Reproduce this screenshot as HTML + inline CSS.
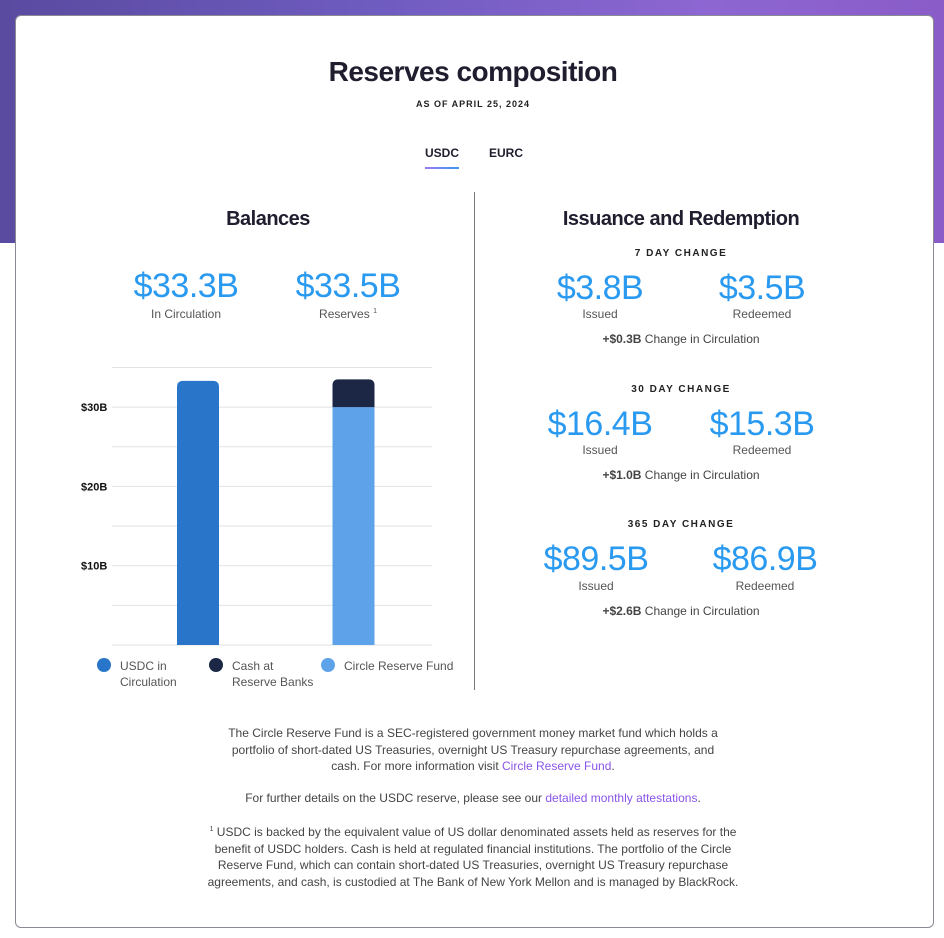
<!DOCTYPE html>
<html><head><meta charset="utf-8"><style>
*{margin:0;padding:0;box-sizing:border-box}
body{width:944px;height:938px;position:relative;background:#fff;font-family:"Liberation Sans",sans-serif;color:#2a2a3a;overflow:hidden}
.bg{position:absolute;left:0;top:0;width:944px;height:243px;background:linear-gradient(90deg,#5a4aa0 0%,#6f5cc0 40%,#8d66d2 75%,#8a5cc8 100%)}
.card{position:absolute;left:15px;top:15px;width:919px;height:913px;background:#fff;border:1px solid #8a8a95;border-radius:6px}
.a{position:absolute;white-space:nowrap}
.c{text-align:center;transform:translateX(-50%)}
.big{font-size:34px;color:#2a9af0;font-weight:normal;letter-spacing:-0.5px}
.lbl{font-size:12px;color:#555}
.cap{font-size:10px;font-weight:bold;letter-spacing:1.5px;color:#222}
.chg{font-size:12px;color:#444}
.foot{font-size:12px;color:#444;line-height:16.5px;text-align:center}
a{color:#8a55e8;text-decoration:none}
</style></head><body>
<div class="bg"></div>
<div class="card"></div>
<div class="a c" style="left:473px;top:56px;font-size:28px;font-weight:bold;color:#1f1d2e;letter-spacing:-0.5px">Reserves composition</div>
<div class="a c" style="left:473px;top:99px;font-size:9px;font-weight:bold;letter-spacing:1px;color:#222">AS OF APRIL 25, 2024</div>
<div class="a" style="left:425px;top:146px;font-size:12px;font-weight:bold;color:#1f1d2e">USDC</div>
<div class="a" style="left:425px;top:167px;width:34px;height:2px;background:linear-gradient(90deg,#9a7af0,#3a9af0)"></div>
<div class="a" style="left:489px;top:146px;font-size:12px;font-weight:bold;color:#1f1d2e">EURC</div>
<div class="a" style="left:474px;top:192px;width:1px;height:498px;background:#777"></div>

<div class="a c" style="left:268px;top:208px;font-size:20px;font-weight:bold;color:#1f1d2e;letter-spacing:-0.5px">Balances</div>
<div class="a c big" style="left:186px;top:267px">$33.3B</div>
<div class="a c lbl" style="left:186px;top:307px">In Circulation</div>
<div class="a c big" style="left:348px;top:267px">$33.5B</div>
<div class="a c lbl" style="left:348px;top:307px">Reserves <sup style="font-size:7px">1</sup></div>

<svg id="chart" class="a" style="left:0;top:0" width="944" height="700"></svg>

<div class="a" style="left:97px;top:658px;width:14px;height:14px;border-radius:50%;background:#2875c9"></div>
<div class="a lbl" style="left:120px;top:658px;line-height:16px">USDC in<br>Circulation</div>
<div class="a" style="left:209px;top:658px;width:14px;height:14px;border-radius:50%;background:#1b2744"></div>
<div class="a lbl" style="left:232px;top:658px;line-height:16px">Cash at<br>Reserve Banks</div>
<div class="a" style="left:321px;top:658px;width:14px;height:14px;border-radius:50%;background:#5ea3ea"></div>
<div class="a lbl" style="left:344px;top:658px;line-height:16px">Circle Reserve Fund</div>

<div class="a c" style="left:681px;top:208px;font-size:20px;font-weight:bold;color:#1f1d2e;letter-spacing:-0.5px">Issuance and Redemption</div>

<div class="a c cap" style="left:681px;top:248px">7 DAY CHANGE</div>
<div class="a c big" style="left:600px;top:269px">$3.8B</div>
<div class="a c lbl" style="left:600px;top:307px">Issued</div>
<div class="a c big" style="left:762px;top:269px">$3.5B</div>
<div class="a c lbl" style="left:762px;top:307px">Redeemed</div>
<div class="a c chg" style="left:681px;top:332px"><b>+$0.3B</b> Change in Circulation</div>

<div class="a c cap" style="left:681px;top:384px">30 DAY CHANGE</div>
<div class="a c big" style="left:600px;top:405px">$16.4B</div>
<div class="a c lbl" style="left:600px;top:443px">Issued</div>
<div class="a c big" style="left:762px;top:405px">$15.3B</div>
<div class="a c lbl" style="left:762px;top:443px">Redeemed</div>
<div class="a c chg" style="left:681px;top:468px"><b>+$1.0B</b> Change in Circulation</div>

<div class="a c cap" style="left:681px;top:519px">365 DAY CHANGE</div>
<div class="a c big" style="left:596px;top:540px">$89.5B</div>
<div class="a c lbl" style="left:596px;top:579px">Issued</div>
<div class="a c big" style="left:765px;top:540px">$86.9B</div>
<div class="a c lbl" style="left:765px;top:579px">Redeemed</div>
<div class="a c chg" style="left:681px;top:604px"><b>+$2.6B</b> Change in Circulation</div>

<div class="a c foot" style="left:473px;top:725px">The Circle Reserve Fund is a SEC-registered government money market fund which holds a<br>portfolio of short-dated US Treasuries, overnight US Treasury repurchase agreements, and<br>cash. For more information visit <a href="#">Circle Reserve Fund</a>.</div>
<div class="a c foot" style="left:473px;top:790px">For further details on the USDC reserve, please see our <a href="#">detailed monthly attestations</a>.</div>
<div class="a c foot" style="left:473px;top:822px"><sup style="font-size:7px">1</sup> USDC is backed by the equivalent value of US dollar denominated assets held as reserves for the<br>benefit of USDC holders. Cash is held at regulated financial institutions. The portfolio of the Circle<br>Reserve Fund, which can contain short-dated US Treasuries, overnight US Treasury repurchase<br>agreements, and cash, is custodied at The Bank of New York Mellon and is managed by BlackRock.</div>

<script>
const categories = ["USDC in Circulation", "Reserves"];
const circulationValues = [33.3, 0];
const fundValues = [0, 30.0];
const cashValues = [0, 3.5];
const gridValues = [0, 5, 10, 15, 20, 25, 30, 35];
const tickValues = [10, 20, 30];
const tickLabels = ["$10B", "$20B", "$30B"];

const svg = document.getElementById('chart');
const NS = 'http://www.w3.org/2000/svg';
const x0 = 112, x1 = 432, yBase = 645, pxPer = 7.93;
const y = v => yBase - v * pxPer;
const xCenter = i => 198 + i * 155.5;
const bw = 42;
function mk(tag, attrs){const e=document.createElementNS(NS,tag);for(const k in attrs)e.setAttribute(k,attrs[k]);svg.appendChild(e);return e;}
gridValues.forEach(v=>{
  const l = mk('line',{x1:x0,x2:x1,y1:y(v),y2:y(v),stroke:'#e2e2e2','stroke-width':1});
  
  
});
tickValues.forEach((v,i)=>{
  const t = mk('text',{x:81,y:y(v)+4,'font-size':11,'font-weight':'bold','font-family':'Liberation Sans, sans-serif',fill:'#111'});
  t.textContent = tickLabels[i];
  
  
});
function bar(i, lo, hi, color, name, roundTop){
  if (hi <= lo) return;
  const xl = xCenter(i) - bw/2, yt = y(hi), yb = y(lo), r = roundTop ? 6 : 0;
  const d = `M${xl},${yb} L${xl},${yt+r} Q${xl},${yt} ${xl+r},${yt} L${xl+bw-r},${yt} Q${xl+bw},${yt} ${xl+bw},${yt+r} L${xl+bw},${yb} Z`;
  const p = mk('path',{d:d,fill:color});
  
  
}
categories.forEach((c,i)=>{
  bar(i, 0, circulationValues[i], '#2875c9', 'bar-circulation', true);
  bar(i, 0, fundValues[i], '#5ea3ea', 'bar-reserve-fund', cashValues[i] <= 0);
  bar(i, fundValues[i], fundValues[i] + cashValues[i], '#1b2744', 'bar-cash', true);
});
</script>
</body></html>
